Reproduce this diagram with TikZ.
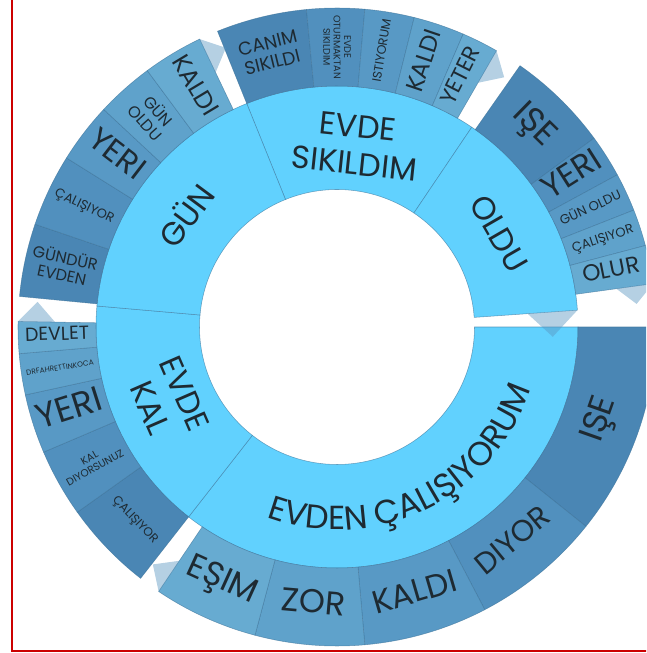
\documentclass[tikz,border=0pt]{standalone}
\usepackage{fontspec}
\setmainfont{Poppins}
\usetikzlibrary{decorations.text}

\definecolor{innerfill}{HTML}{61D1FE}
\definecolor{shadeA}{HTML}{4A86B4}
\definecolor{shadeB}{HTML}{5190BE}
\definecolor{shadeC}{HTML}{5899C5}
\definecolor{shadeD}{HTML}{5FA2CB}
\definecolor{shadeE}{HTML}{67ABD1}
\definecolor{celledge}{HTML}{3A6F95}
\definecolor{labelink}{HTML}{1E2A32}
\definecolor{tipfill}{HTML}{5A96C0}
\definecolor{framered}{HTML}{CC0000}

\newlength\pxu
\setlength\pxu{0.75pt}

% annular cell: fill, ccw angle, cw angle, inner radius, outer radius
\newcommand\ringcell[5]{%
  \filldraw[cell,fill=#1] ([shift={(C)}]#2:#4) arc[start angle=#2,end angle=#3,radius=#4]
    -- ([shift={(C)}]#3:#5) arc[start angle=#3,end angle=#2,radius=#5] -- cycle;}

% pale pointer at the clockwise end of a ring segment: base angle, apex angle, r1, r2
\newcommand\tipmark[4]{%
  \fill[pointer] ([shift={(C)}]#1:#3) -- ([shift={(C)}]#2:{(#3+#4)/2}) -- ([shift={(C)}]#1:#4) -- cycle;}

% outer label: name, mid angle, rotation, width, text
\newcommand\celltext[5]{%
  \node[olbl,rotate=#3] (#1) at ([shift={(C)}]#2:280)
    {\resizebox{#4\pxu}{!}{\begin{tabular}{@{}c@{}}#5\end{tabular}}};}

\tikzset{
  cell/.style={draw=celledge,draw opacity=0.6,line width=0.4pt},
  pointer/.style={fill=tipfill,fill opacity=0.45},
  olbl/.style={text=labelink,inner sep=0pt},
  inlbl/.style={text=labelink,inner sep=0pt,align=center,font=\fontsize{24}{28}\selectfont},
}

\renewcommand\arraystretch{0.9}

\begin{document}
\begin{tikzpicture}[x=0.75pt,y=0.75pt]
\useasboundingbox (0,0) rectangle (646,653);
\clip (0,0) rectangle (646,653);
\coordinate (C) at (337,326);

% inner ring
\ringcell{innerfill}{112}{56}{137.5}{241}
\ringcell{innerfill}{56}{4}{137.5}{241}
\ringcell{innerfill}{360}{232}{137.5}{241}
\ringcell{innerfill}{232}{175}{137.5}{241}
\ringcell{innerfill}{175}{112}{137.5}{241}

% outer ring: GÜN
\ringcell{shadeA}{174.5}{161.2}{241}{319}
\ringcell{shadeB}{161.2}{148}{241}{319}
\ringcell{shadeC}{148}{137}{241}{319}
\ringcell{shadeD}{137}{126.5}{241}{319}
\ringcell{shadeE}{126.5}{115.5}{241}{319}
% outer ring: EVDE SIKILDIM
\ringcell{shadeA}{112}{95.5}{241}{319}
\ringcell{shadeB}{95.5}{85}{241}{319}
\ringcell{shadeC}{85}{76}{241}{319}
\ringcell{shadeD}{76}{66.7}{241}{319}
\ringcell{shadeE}{66.7}{60}{241}{319}
% outer ring: OLDU
\ringcell{shadeA}{55}{36.3}{241}{319}
\ringcell{shadeB}{36.3}{28.5}{241}{319}
\ringcell{shadeC}{28.5}{21.5}{241}{319}
\ringcell{shadeD}{21.5}{14.8}{241}{319}
\ringcell{shadeE}{14.8}{7.8}{241}{319}
% outer ring: EVDEN ÇALIŞIYORUM
\ringcell{shadeA}{360}{321.3}{241}{319}
\ringcell{shadeB}{321.3}{297.6}{241}{319}
\ringcell{shadeC}{297.6}{275}{241}{319}
\ringcell{shadeD}{275}{255.1}{241}{319}
\ringcell{shadeE}{255.1}{236}{241}{319}
% outer ring: EVDE KAL
\ringcell{shadeA}{232}{215.5}{241}{319}
\ringcell{shadeB}{215.5}{203.1}{241}{319}
\ringcell{shadeC}{203.1}{192.3}{241}{319}
\ringcell{shadeD}{192.3}{184.8}{241}{319}
\ringcell{shadeE}{184.8}{179}{241}{319}

% pointers at segment ends
\tipmark{4}{-2.6}{191}{241}
\tipmark{7.8}{4.4}{282}{319}
\tipmark{60}{56.2}{282}{319}
\tipmark{115.5}{111.7}{282}{319}
\tipmark{236}{232.2}{282}{319}
\tipmark{179}{175.2}{282}{319}

% inner labels
\node[inlbl,rotate=53.5] (gun) at ([shift={(C)}]143.5:189) {GÜN};
\node[inlbl,rotate=-6] (evdesik) at ([shift={(C)}]84:183) {EVDE\\SIKILDIM};
\node[inlbl,rotate=-60] (oldu) at ([shift={(C)}]30:187) {OLDU};
\node[inlbl,rotate=-66.5] (evdekal) at ([shift={(C)}]203.5:185) {EVDE\\KAL};
\path[decorate,decoration={text along path,text align=center,text color=labelink,
    text={|\fontsize{25}{25}\selectfont|EVDEN ÇALIŞIYORUM}}]
  ([shift={(C)}]226:203) arc[start angle=226,end angle=366,radius=203];

% outer labels: GÜN
\celltext{g1}{167.85}{-12.15}{66}{GÜNDÜR\\EVDEN}
\celltext{g2}{154.6}{-25.4}{64}{ÇALIŞIYOR}
\celltext{g3}{142.5}{-37.5}{62}{YERI}
\celltext{g4}{131.75}{-48.25}{42}{GÜN\\OLDU}
\celltext{g5}{121}{-59}{66}{KALDI}
% outer labels: EVDE SIKILDIM
\celltext{s1}{103.75}{13.75}{60}{CANIM\\SIKILDI}
\celltext{s2}{90.25}{-89.75}{64}{EVDE\\OTURMAKTAN\\SIKILDIM}
\celltext{s3}{80.5}{80.5}{64}{ISTIYORUM}
\celltext{s4}{71.35}{71.35}{64}{KALDI}
\celltext{s5}{63.35}{63.35}{62}{YETER}
% outer labels: OLDU
\celltext{o1}{45.65}{-44.35}{46}{IŞE}
\celltext{o2}{32.4}{32.4}{64}{YERI}
\celltext{o3}{25}{25}{66}{GÜN OLDU}
\celltext{o4}{18.15}{18.15}{64}{ÇALIŞIYOR}
\celltext{o5}{11.3}{11.3}{58}{OLUR}
% outer labels: EVDEN ÇALIŞIYORUM
\celltext{e1}{340.65}{70.65}{46}{IŞE}
\celltext{e2}{309.45}{39.45}{88}{DIYOR}
\celltext{e3}{286.3}{16.3}{86}{KALDI}
\celltext{e4}{265.05}{-4.95}{64}{ZOR}
\celltext{e5}{245.55}{-24.45}{74}{EŞIM}
% outer labels: EVDE KAL
\celltext{k1}{223.75}{-46.25}{60}{ÇALIŞIYOR}
\celltext{k2}{209.3}{29.3}{64}{KAL\\DIYORSUNUZ}
\celltext{k3}{197.7}{17.7}{68}{YERI}
\celltext{k4}{188.55}{8.55}{68}{DRFAHRETTINKOCA}
\celltext{k5}{181.9}{1.9}{64}{DEVLET}

% frame
\draw[framered,line width=1.6pt] (12,660) -- (12,2) -- (660,2);
\end{tikzpicture}
\end{document}
